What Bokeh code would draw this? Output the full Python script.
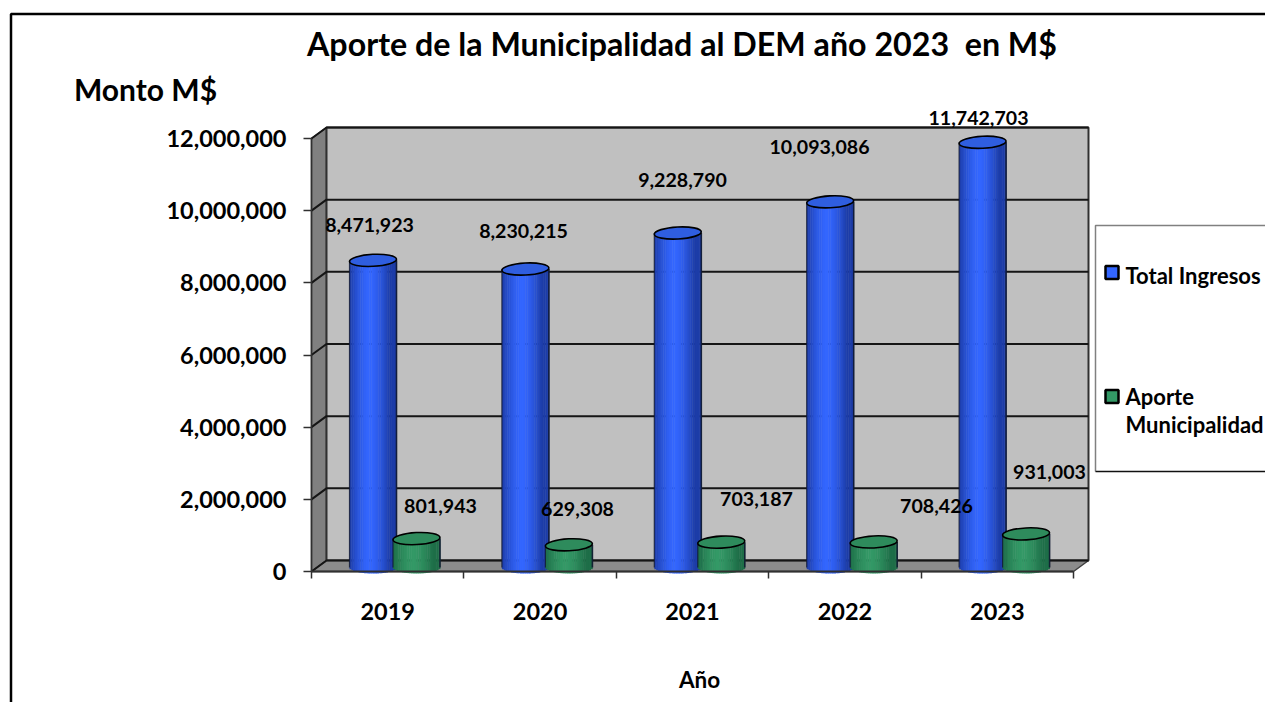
from bokeh.plotting import figure
from bokeh.models import Range1d, LinearAxis, FixedTicker, NumeralTickFormatter, ColumnDataSource
from bokeh.core.properties import value
from bokeh.embed import file_html
from bokeh.resources import INLINE
import math

years = ["2019", "2020", "2021", "2022", "2023"]
total_ingresos = [8471923, 8230215, 9228790, 10093086, 11742703]
aporte_municipalidad = [801943, 629308, 703187, 708426, 931003]
y_ticks = [0, 2000000, 4000000, 6000000, 8000000, 10000000, 12000000]
title_text = "Aporte de la Municipalidad al DEM año 2023\u00a0 en M$"
y_title = "Monto M$"
x_title = "Año"
series_names = ["Total Ingresos", "Aporte", "Municipalidad"]

# layout, in page pixels
W, H = 1265, 702
PAGE = 0
X0, CAT = 311.0, 152.4
Y0, PER = 571.0, 433.0 / 12000000
DX, DY = 15.0, 11.0
FONT = value("Lato")


def X(px):
    return (px - X0) / CAT


def Y(py):
    return (Y0 - py) / PER


p = figure(width=W, height=H, output_backend="svg", toolbar_location=None,
           x_range=Range1d(X(PAGE), X(PAGE + W)), y_range=Range1d(Y(PAGE + H), Y(PAGE)),
           x_axis_type=None, y_axis_type=None, min_border=0, outline_line_color=None,
           background_fill_color="white", border_fill_color="white")
p.grid.visible = False

ddx, ddy = DX / CAT, DY * 1.0 / (PER * 1.0)
top = y_ticks[-1]
n = len(years)

# walls and floor
p.patch([0, ddx, ddx, 0], [0, ddy, top + ddy, top], fill_color="#808080", line_color="#404040", line_width=1.5)
p.patch([ddx, n + ddx, n + ddx, ddx], [ddy, ddy, top + ddy, top + ddy], fill_color="#C0C0C0",
        line_color="#303030", line_width=2)
p.patch([0, n, n + ddx, ddx], [0, 0, ddy, ddy], fill_color="#8C8C8C", line_color="#404040", line_width=1.5)

# gridlines on back wall and on side wall
for t in y_ticks:
    p.line([0, ddx, n + ddx], [t, t + ddy, t + ddy], line_color="#151515", line_width=2)

# cylinders
STRIPS = 26
RY = 6.0
BAR_W = 47.0


def mix(a, b, f):
    return "#%02x%02x%02x" % tuple(round(a[i] + (b[i] - a[i]) * f) for i in range(3))


def cylinders(values, offset, lift, bright, dark, cap):
    left, right, tops, bottoms, colors = [], [], [], [], []
    cx, tops_y = [], []
    for i, v in enumerate(values):
        c = X0 + offset + CAT * i
        py_top = Y0 - v * PER - lift
        py_base = Y0 - 4
        for s in range(STRIPS):
            a = -1 + 2 * s / STRIPS
            b = -1 + 2 * (s + 1) / STRIPS
            u = (a + b) / 2
            f = min(1.0, abs(u + 0.15) / 0.85) ** 1.6
            left.append(X(c + a * BAR_W / 2))
            right.append(X(c + b * BAR_W / 2 + 0.4))
            tops.append(Y(py_top))
            bottoms.append(Y(py_base + RY * math.sqrt(max(0, 1 - u * u))))
            colors.append(mix(bright, dark, f))
        cx.append(X(c))
        tops_y.append(Y(py_top))
    src = ColumnDataSource(dict(left=left, right=right, top=tops, bottom=bottoms, color=colors))
    p.quad(left="left", right="right", top="top", bottom="bottom", fill_color="color",
           line_color=None, source=src)
    p.segment([x - BAR_W / 2 / CAT for x in cx], tops_y, [x - BAR_W / 2 / CAT for x in cx],
              [Y(Y0 - 4)] * len(cx), line_color="#101830", line_width=1.2, line_alpha=0.8)
    p.segment([x + BAR_W / 2 / CAT for x in cx], tops_y, [x + BAR_W / 2 / CAT for x in cx],
              [Y(Y0 - 4)] * len(cx), line_color="#101830", line_width=1.6, line_alpha=0.9)
    p.ellipse(cx, tops_y, width=BAR_W, height=2 * RY, angle=math.radians(3),
              width_units="screen", height_units="screen", fill_color=cap,
              line_color="black", line_width=1.6)


cylinders(total_ingresos, 61.5, 5.5, (0x33, 0x66, 0xFF), (0x1C, 0x3C, 0xA8), "#2F5EE0")
cylinders(aporte_municipalidad, 105.0, 4.0, (0x33, 0x99, 0x66), (0x1E, 0x6E, 0x48), "#2E8B5C")

# axes
ya = LinearAxis(ticker=FixedTicker(ticks=y_ticks), formatter=NumeralTickFormatter(format="0,0"),
                fixed_location=0, bounds=(0, 12000000))
ya.major_label_text_font = "Lato"
ya.major_label_text_font_style = "bold"
ya.major_label_text_font_size = "23.5px"
ya.major_label_text_color = "black"
ya.major_label_standoff = 17
ya.major_tick_out = 8
ya.major_tick_in = 0
ya.minor_tick_out = 0
ya.minor_tick_in = 0
ya.axis_line_color = "#303030"
ya.axis_line_width = 1.5
ya.major_tick_line_color = "#303030"
ya.major_tick_line_width = 1.5
p.add_layout(ya, "left")

xa = LinearAxis(ticker=FixedTicker(ticks=[i + 0.5 for i in range(n)], minor_ticks=list(range(n + 1))),
                fixed_location=0, bounds=(0, n),
                major_label_overrides={i + 0.5: years[i] for i in range(n)})
xa.major_label_text_font = "Lato"
xa.major_label_text_font_style = "bold"
xa.major_label_text_font_size = "23.5px"
xa.major_label_text_color = "black"
xa.major_label_standoff = 24
xa.major_tick_out = 0
xa.major_tick_in = 0
xa.minor_tick_out = 7
xa.minor_tick_in = 0
xa.minor_tick_line_color = "#303030"
xa.minor_tick_line_width = 1.5
xa.axis_line_color = "#303030"
xa.axis_line_width = 2
p.add_layout(xa, "below")

# value labels
blue_label_px = [(369, 224), (523, 230), (682, 179), (819, 146), (978, 117)]
green_label_px = [(440, 505), (577, 508), (756, 498), (936, 505), (1049, 471)]
for vals, pos in ((total_ingresos, blue_label_px), (aporte_municipalidad, green_label_px)):
    p.text([X(a) for a, _ in pos], [Y(b) for _, b in pos], text=[f"{v:,}" for v in vals],
           text_font=FONT, text_font_style="bold", text_font_size="19.6px", text_color="black",
           text_align="center", text_baseline="middle")


def label(text, px, py, size, align="center"):
    p.text([X(px)], [Y(py)], text=[text], text_font=FONT, text_font_style="bold",
           text_font_size=size, text_color="black", text_align=align, text_baseline="middle")


label(title_text, 681.5, 43, "32.2px")
label(y_title, 145, 88, "30px")
label(x_title, 699, 679, "22.5px")

# legend
p.line([X(1265), X(1095), X(1095)], [Y(225), Y(225), Y(471)], line_color="#808080", line_width=1.5)
p.line([X(1095), X(1265)], [Y(471), Y(471)], line_color="#101010", line_width=1.5)
p.scatter([X(1111.5)], [Y(272)], marker="square", size=13, fill_color="#3366FF", line_color="black", line_width=2.5)
p.scatter([X(1111.5)], [Y(396)], marker="square", size=13, fill_color="#339966", line_color="black", line_width=2.5)
label(series_names[0], 1125, 275, "22px", "left")
label(series_names[1], 1125, 396, "22px", "left")
label(series_names[2], 1125, 424, "22px", "left")

# outer frame of the picture
p.line([X(10.5), X(10.5), X(1265)], [Y(702), Y(13.5), Y(13.5)], line_color="black", line_width=2.5)

open("out.html", "w").write(file_html(p, INLINE))
